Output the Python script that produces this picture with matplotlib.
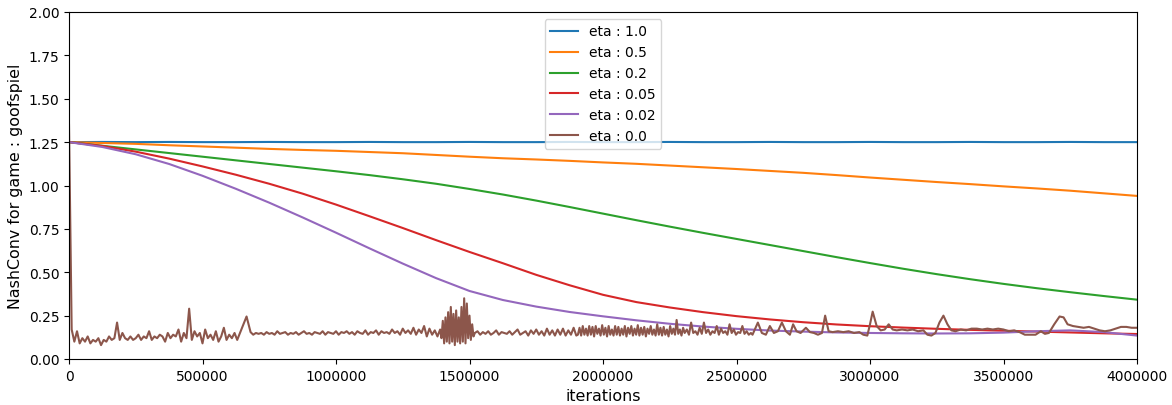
import numpy as np
import matplotlib
matplotlib.use("Agg")
import matplotlib.pyplot as plt

# ---------------- data ----------------
labels = ["eta : 1.0", "eta : 0.5", "eta : 0.2", "eta : 0.05", "eta : 0.02", "eta : 0.0"]

# smooth series sampled every 125k iterations (0 .. 4,000,000)
smooth_x = np.arange(0, 4000001, 125000)

eta_10 = [1.25, 1.251, 1.25, 1.251, 1.25, 1.25, 1.251, 1.25, 1.25, 1.251, 1.25,
          1.25, 1.251, 1.25, 1.25, 1.251, 1.25, 1.25, 1.251, 1.25, 1.25, 1.251,
          1.25, 1.25, 1.251, 1.25, 1.25, 1.251, 1.25, 1.25, 1.251, 1.25, 1.25]
eta_05 = [1.25, 1.245, 1.24, 1.232, 1.225, 1.218, 1.211, 1.205, 1.2, 1.193, 1.186,
          1.176, 1.166, 1.157, 1.15, 1.142, 1.133, 1.125, 1.115, 1.105, 1.095,
          1.084, 1.073, 1.06, 1.046, 1.033, 1.02, 1.008, 0.995, 0.983, 0.97, 0.955, 0.94]
eta_02 = [1.25, 1.229, 1.208, 1.187, 1.166, 1.145, 1.124, 1.103, 1.082, 1.06, 1.036,
          1.01, 0.98, 0.948, 0.913, 0.876, 0.838, 0.80, 0.763, 0.727, 0.692, 0.657,
          0.622, 0.587, 0.553, 0.52, 0.489, 0.46, 0.433, 0.408, 0.385, 0.363, 0.342]
eta_005 = [1.25, 1.228, 1.195, 1.155, 1.11, 1.062, 1.01, 0.953, 0.89, 0.823, 0.755,
           0.685, 0.617, 0.552, 0.485, 0.425, 0.37, 0.328, 0.297, 0.27, 0.247, 0.228,
           0.212, 0.199, 0.189, 0.181, 0.174, 0.168, 0.163, 0.158, 0.153, 0.148, 0.144]
eta_002 = [1.25, 1.222, 1.18, 1.124, 1.056, 0.981, 0.901, 0.816, 0.728, 0.638, 0.55,
           0.466, 0.392, 0.34, 0.302, 0.271, 0.246, 0.223, 0.203, 0.187, 0.174, 0.164,
           0.158, 0.153, 0.15, 0.148, 0.147, 0.148, 0.152, 0.16, 0.165, 0.155, 0.135]

# eta 0.0 (noisy) — stored in pieces; (start, end) in iterations
brown_a_range = (0, 630000)
brown_a = [1.35, 0.17, 0.10, 0.16, 0.09, 0.12, 0.10, 0.13, 0.09, 0.11, 0.10, 0.12, 0.08,
           0.11, 0.10, 0.13, 0.11, 0.12, 0.21, 0.11, 0.15, 0.12, 0.11, 0.13, 0.11, 0.12,
           0.14, 0.11, 0.13, 0.12, 0.16, 0.11, 0.13, 0.12, 0.14, 0.13, 0.10, 0.15, 0.12,
           0.14, 0.13, 0.17, 0.10, 0.15, 0.12, 0.29, 0.11, 0.16, 0.13, 0.15, 0.09, 0.17,
           0.12, 0.14, 0.11, 0.16, 0.10, 0.13, 0.18, 0.11, 0.14, 0.12, 0.15, 0.11]
brown_gap_x = [665000]
brown_gap = [0.245]
brown_b_range = (680000, 1390000)
brown_b = [0.155, 0.14, 0.15, 0.145, 0.15, 0.14, 0.155, 0.145, 0.15, 0.14, 0.16, 0.145,
           0.15, 0.155, 0.14, 0.15, 0.145, 0.155, 0.14, 0.15, 0.16, 0.145, 0.15, 0.14,
           0.155, 0.15, 0.145, 0.16, 0.14, 0.155, 0.15, 0.145, 0.16, 0.14, 0.155, 0.15,
           0.16, 0.145, 0.155, 0.14, 0.16, 0.15, 0.145, 0.165, 0.14, 0.155, 0.15, 0.165,
           0.14, 0.16, 0.15, 0.155, 0.145, 0.17, 0.15, 0.16, 0.14, 0.175, 0.15, 0.165,
           0.145, 0.18, 0.14, 0.17, 0.15, 0.19, 0.13, 0.175, 0.14, 0.165, 0.13, 0.17]
brown_c_range = (1395000, 1515000)
brown_c = [0.12, 0.22, 0.09, 0.24, 0.10, 0.27, 0.09, 0.30, 0.10, 0.26, 0.08, 0.28, 0.10,
           0.24, 0.09, 0.30, 0.10, 0.35, 0.09, 0.32, 0.12, 0.25, 0.11, 0.20, 0.13]
brown_d_range = (1520000, 1900000)
brown_d = [0.15, 0.16, 0.14, 0.155, 0.145, 0.16, 0.14, 0.15, 0.165, 0.14, 0.155, 0.15,
           0.145, 0.16, 0.14, 0.155, 0.17, 0.14, 0.15, 0.16, 0.135, 0.165, 0.145, 0.17,
           0.14, 0.16, 0.135, 0.175, 0.14, 0.165, 0.135, 0.17, 0.14, 0.175, 0.135, 0.165,
           0.14, 0.18, 0.135]
brown_e_range = (1906000, 2300000)
brown_e = [0.14, 0.18, 0.135, 0.19, 0.14, 0.175, 0.135, 0.19, 0.14, 0.185, 0.13, 0.19,
           0.145, 0.175, 0.135, 0.195, 0.14, 0.18, 0.13, 0.19, 0.14, 0.17, 0.135, 0.19,
           0.14, 0.185, 0.135, 0.175, 0.14, 0.19, 0.13, 0.18, 0.145, 0.19, 0.135, 0.175,
           0.14, 0.195, 0.135, 0.18, 0.14, 0.185, 0.13, 0.175, 0.145, 0.19, 0.14, 0.17,
           0.135, 0.20, 0.14, 0.18, 0.135, 0.185, 0.14, 0.17, 0.13, 0.19, 0.145, 0.175,
           0.14, 0.225, 0.145, 0.17, 0.135, 0.18]
brown_f_range = (2306000, 2554000)
brown_f = [0.15, 0.17, 0.14, 0.21, 0.15, 0.16, 0.14, 0.18, 0.145, 0.21, 0.15, 0.17,
           0.14, 0.16, 0.15, 0.19, 0.14, 0.175, 0.15, 0.16, 0.14, 0.20, 0.15, 0.17,
           0.14, 0.155, 0.15, 0.19, 0.145, 0.16, 0.14, 0.15]
brown_g_x = [2560, 2580, 2595, 2610, 2625, 2640, 2655, 2670, 2685, 2700, 2712, 2725,
             2740, 2760, 2775, 2790, 2805, 2820, 2832, 2845, 2860, 2880, 2900, 2920,
             2940, 2960, 2975, 2990, 3000, 3010, 3025, 3040, 3055, 3070, 3085, 3100,
             3120, 3140, 3160, 3180, 3200, 3215, 3230, 3245, 3260, 3275, 3290, 3305,
             3320, 3340, 3360, 3380, 3400, 3420, 3440, 3460, 3480, 3500, 3520, 3540,
             3560, 3580, 3600, 3620, 3640, 3655, 3670, 3690, 3710, 3725, 3740, 3760,
             3780, 3800, 3820, 3840, 3860, 3880, 3900, 3920, 3940, 3960, 3980, 4000]
brown_g = [0.14, 0.21, 0.15, 0.14, 0.19, 0.15, 0.16, 0.21, 0.16, 0.14, 0.20, 0.16,
           0.15, 0.18, 0.155, 0.15, 0.14, 0.15, 0.25, 0.16, 0.155, 0.16, 0.155, 0.16,
           0.15, 0.155, 0.14, 0.135, 0.20, 0.273, 0.19, 0.165, 0.17, 0.20, 0.17, 0.165,
           0.17, 0.165, 0.17, 0.16, 0.165, 0.14, 0.135, 0.15, 0.21, 0.25, 0.20, 0.165,
           0.16, 0.17, 0.165, 0.175, 0.175, 0.17, 0.175, 0.17, 0.175, 0.17, 0.16, 0.165,
           0.155, 0.14, 0.14, 0.14, 0.16, 0.145, 0.15, 0.20, 0.245, 0.24, 0.20, 0.19,
           0.185, 0.18, 0.185, 0.175, 0.165, 0.16, 0.165, 0.175, 0.185, 0.185, 0.18, 0.18]

# ---------------- assemble brown ----------------
def seg(rng, vals):
    return np.linspace(rng[0], rng[1], len(vals)), np.asarray(vals, float)

parts = [seg(brown_a_range, brown_a),
         (np.asarray(brown_gap_x, float), np.asarray(brown_gap, float)),
         seg(brown_b_range, brown_b),
         seg(brown_c_range, brown_c),
         seg(brown_d_range, brown_d),
         seg(brown_e_range, brown_e),
         seg(brown_f_range, brown_f),
         (np.asarray(brown_g_x, float) * 1000, np.asarray(brown_g, float))]
brown_x = np.concatenate([p[0] for p in parts])
brown_y = np.concatenate([p[1] for p in parts])

# ---------------- plot ----------------
DPI = 100
fig = plt.figure(figsize=(1172 / DPI, 406 / DPI), dpi=DPI)
ax = fig.add_axes([69 / 1172, 1 - 360 / 406, (1137 - 69) / 1172, (360 - 13) / 406])

colors = ["#1f77b4", "#ff7f0e", "#2ca02c", "#d62728", "#9467bd", "#8c564b"]
smooth = [eta_10, eta_05, eta_02, eta_005, eta_002]
for vals, lab, c in zip(smooth, labels[:5], colors[:5]):
    ax.plot(smooth_x, vals, color=c, lw=1.5, label=lab)
ax.plot(brown_x, brown_y, color=colors[5], lw=1.5, label=labels[5])

ax.set_xlim(0, 4000000)
ax.set_ylim(0, 2.0)
ax.set_xticks(np.arange(0, 4000001, 500000))
ax.set_yticks(np.arange(0, 2.01, 0.25))
ax.ticklabel_format(axis="x", style="plain", useOffset=False)
ax.tick_params(labelsize=10)
ax.set_xlabel("iterations", fontsize=11.4)
ax.set_ylabel("NashConv for game : goofspiel", fontsize=11.4)
ax.legend(loc="upper center", fontsize=10)

fig.savefig("out.png", dpi=DPI)
